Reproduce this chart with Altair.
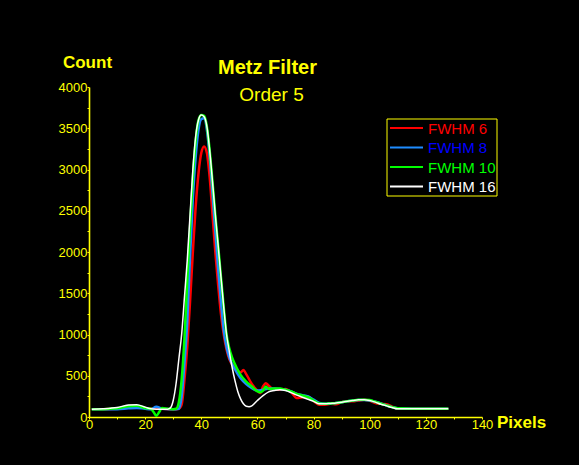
import altair as alt
import pandas as pd

# ---- data ----
series_names = ["FWHM 6", "FWHM 8", "FWHM 10", "FWHM 16"]
line_colors = ["#ff0000", "#1e8cff", "#00ff00", "#ffffff"]
label_colors = ["#ff0000", "#0000ff", "#00ff00", "#ffffff"]
line_widths = [2.5, 2.5, 2.5, 1.5]

red_x = [1,5,10,14,17,20,23,26,29,31,32,33,34,35,36,37,38,39,40,41,42,43,44,45,46,47,48,49,50,52,54,55,56,58,60,61,62,63,64,66,68,70,72,74,76,78,80,82,84,86,88,90,92,94,96,98,100,102,104,106,108,110,115,120,125,128]
red_y = [95,95,100,115,120,110,100,100,95,95,100,150,450,850,1400,2000,2550,2950,3200,3280,3200,2900,2450,2000,1600,1250,1000,820,700,600,540,570,520,400,320,290,370,410,380,330,330,340,300,230,240,250,195,150,150,160,155,180,190,190,200,210,195,170,160,155,125,100,100,100,100,100]

blue_x = [1,5,10,14,17,20,22,24,26,29,31,32,33,34,35,36,37,38,39,40,41,42,43,44,45,46,47,48,49,50,51,52,53,54,56,58,60,62,64,66,68,70,72,74,76,78,80,82,84,86,88,90,92,94,96,98,100,102,104,106,108,110,115,120,125,128]
blue_y = [95,95,95,105,110,100,95,125,100,95,95,100,250,650,1150,1950,2650,3150,3480,3610,3620,3480,3150,2700,2250,1800,1400,1050,850,720,640,580,520,470,400,350,320,330,345,345,340,330,310,280,265,250,210,170,160,165,170,180,190,200,205,205,200,185,165,140,120,105,100,100,100,100]

green_x = [1,5,10,14,17,20,22,23,24,25,26,28,30,31,32,33,34,35,36,37,38,39,40,41,42,43,44,45,46,47,48,49,50,51,52,53,54,56,58,60,61,62,63,64,66,68,70,72,74,76,78,80,82,84,86,88,90,92,94,96,98,100,102,104,106,108,110,115,120,125,128]
green_y = [95,95,105,130,135,110,100,60,15,60,110,100,95,100,180,450,950,1650,2300,2900,3350,3600,3660,3650,3520,3230,2850,2450,2080,1700,1330,1000,830,720,640,570,510,430,370,310,300,320,370,340,345,345,330,310,280,260,240,200,165,160,165,170,180,190,200,210,210,205,185,160,140,120,105,100,100,100,100]

white_x = [1,5,10,14,17,20,22,24,26,28,29,30,31,32,33,34,35,36,37,38,39,40,41,42,43,44,45,46,47,48,49,50,51,52,53,54,55,56,57,58,60,62,64,66,68,70,72,74,76,78,80,82,84,86,88,90,92,94,96,98,100,102,104,106,108,110,115,120,125,128]
white_y = [95,100,115,145,150,120,100,95,95,95,110,200,400,700,1000,1450,1900,2450,3000,3400,3600,3660,3640,3520,3230,2850,2450,2080,1700,1330,1000,790,600,440,310,220,160,130,125,135,200,260,305,320,330,320,295,265,240,215,190,160,160,165,170,180,190,200,210,210,200,180,155,135,115,100,100,100,100,100]

x_ticks = list(range(0, 141, 10))
y_ticks = list(range(0, 4001, 250))

YELLOW = "#ffff00"
FONT = "Liberation Sans"
W, H = 393, 330

xs_all = [red_x, blue_x, green_x, white_x]
ys_all = [red_y, blue_y, green_y, white_y]

x_enc = alt.X("x:Q", scale=alt.Scale(domain=[0, 140], nice=False, zero=False),
              axis=alt.Axis(values=x_ticks, title=None,
                            labelExpr="datum.value % 20 == 0 ? datum.label : ''",
                            labelColor=YELLOW, labelFont=FONT, labelFontSize=13,
                            labelPadding=-1, tickSize=2, tickColor=YELLOW,
                            domainColor=YELLOW, domainWidth=1.6, grid=False,
                            labelFlush=False, labelOverlap=False))
y_enc = alt.Y("count:Q", scale=alt.Scale(domain=[0, 4000], nice=False),
              axis=alt.Axis(values=y_ticks, title=None,
                            labelExpr="datum.value % 500 == 0 ? datum.label : ''",
                            labelColor=YELLOW, labelFont=FONT, labelFontSize=13,
                            labelPadding=0, tickSize=2, tickColor=YELLOW,
                            domainColor=YELLOW, domainWidth=1.6, grid=False,
                            labelFlush=False, labelOverlap=False, format="d"))

layers = []
for name, col, lw, xs, ys in zip(series_names, line_colors, line_widths, xs_all, ys_all):
    df = pd.DataFrame({"x": xs, "count": ys, "series": name})
    layers.append(
        alt.Chart(df).mark_line(color=col, strokeWidth=lw, interpolate="monotone", clip=True)
        .encode(x=x_enc, y=y_enc)
    )

one = pd.DataFrame({"a": [0]})

# legend box
layers.append(
    alt.Chart(one).mark_rect(fill="black", stroke=YELLOW, strokeWidth=1)
    .encode(x=alt.value(298), x2=alt.value(408), y=alt.value(32), y2=alt.value(109))
)
row_y = [41, 60.5, 80, 99.5]
for name, lc, tc, ry in zip(series_names, line_colors, label_colors, row_y):
    layers.append(
        alt.Chart(one).mark_rule(color=lc, strokeWidth=2.2)
        .encode(x=alt.value(301), x2=alt.value(334), y=alt.value(ry))
    )
    layers.append(
        alt.Chart(one).mark_text(text=name, color=tc, font=FONT, fontSize=15,
                                 align="left", baseline="middle")
        .encode(x=alt.value(339), y=alt.value(ry + 0.5))
    )

# titles
layers.append(
    alt.Chart(one).mark_text(text="Metz Filter", color=YELLOW, font=FONT, fontSize=20,
                             fontWeight="bold", align="center", baseline="alphabetic")
    .encode(x=alt.value(178.5), y=alt.value(-13))
)
layers.append(
    alt.Chart(one).mark_text(text="Order 5", color=YELLOW, font=FONT, fontSize=19,
                             align="center", baseline="alphabetic")
    .encode(x=alt.value(182.5), y=alt.value(14))
)
layers.append(
    alt.Chart(one).mark_text(text="Count", color=YELLOW, font=FONT, fontSize=17,
                             fontWeight="bold", align="center", baseline="alphabetic")
    .encode(x=alt.value(-1.5), y=alt.value(-19))
)
layers.append(
    alt.Chart(one).mark_text(text="Pixels", color=YELLOW, font=FONT, fontSize=17,
                             fontWeight="bold", align="left", baseline="alphabetic")
    .encode(x=alt.value(408), y=alt.value(H + 11))
)

chart = alt.layer(*layers).properties(
    width=W, height=H,
    background="black",
    padding={"left": 89, "top": 87, "right": 97, "bottom": 48},
    autosize=alt.AutoSizeParams(type="none"),
).configure_view(stroke=None)

chart.save("out.html", embed_options={"renderer": "svg", "actions": False})
